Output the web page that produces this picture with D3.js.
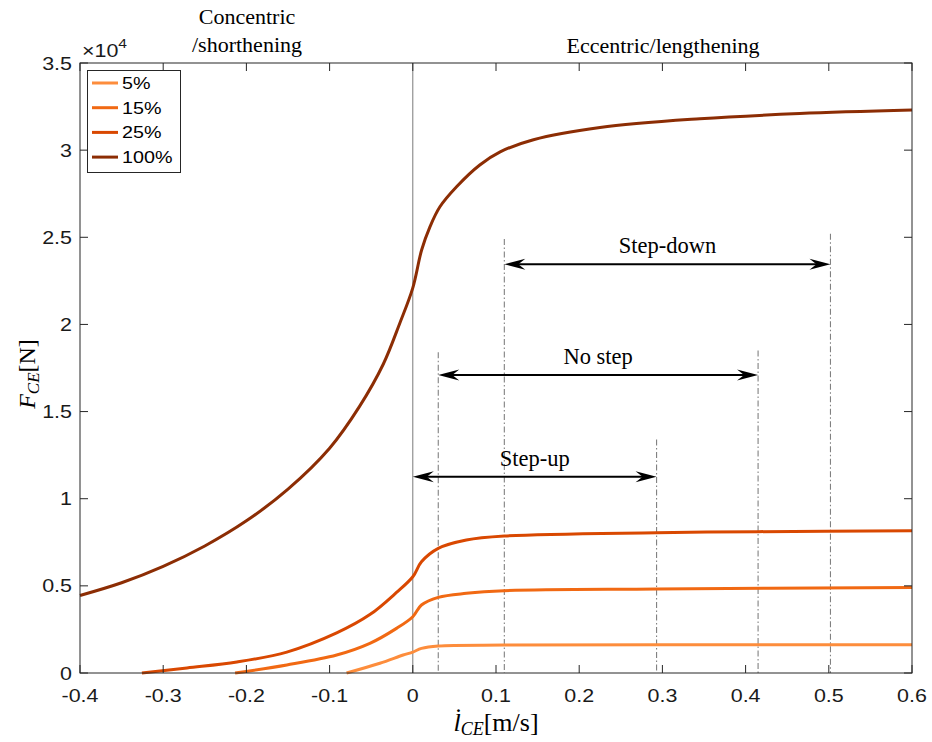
<!DOCTYPE html>
<html>
<head>
<meta charset="utf-8">
<script src="https://cdn.jsdelivr.net/npm/d3@7"></script>
<style>
  html, body { margin: 0; padding: 0; background: #fff; }
  svg { display: block; }
</style>
</head>
<body>
<svg id="chart" width="932" height="742"></svg>
<script>
// Force-velocity curves of the contractile element at several activation levels
const seriesNames = ["5%", "15%", "25%", "100%"];
const seriesColors = ["#fd8d3c", "#f16913", "#d94801", "#8c2d04"];

const vel5   = [-0.0796, -0.0396, -0.0116, 0, 0.0104, 0.0306, 0.11, 0.3, 0.6];
const force5 = [0, 560, 1030, 1200, 1410, 1550, 1600, 1615, 1620];

const vel15   = [-0.2136, -0.1514, -0.0915, -0.0516, -0.0196, 0, 0.0104, 0.0306, 0.0644, 0.11, 0.293, 0.6];
const force15 = [0, 460, 1030, 1700, 2560, 3230, 3900, 4340, 4570, 4720, 4820, 4910];

const vel25   = [-0.3256, -0.2714, -0.2114, -0.1514, -0.0915, -0.0516, -0.0196, 0, 0.0104, 0.0306, 0.0644, 0.11, 0.293, 0.415, 0.6];
const force25 = [0, 290, 630, 1200, 2300, 3350, 4620, 5520, 6380, 7150, 7630, 7860, 8050, 8110, 8160];

const vel100   = [-0.4, -0.35, -0.3, -0.25, -0.2, -0.15, -0.1, -0.064, -0.0357, -0.0154, 0, 0.0106, 0.0206, 0.0326, 0.0526, 0.0805, 0.105, 0.145, 0.225, 0.345, 0.465, 0.6];
const force100 = [4450, 5180, 6120, 7290, 8730, 10550, 12900, 15300, 17700, 20100, 22100, 24270, 25600, 26750, 27900, 29150, 29900, 30600, 31300, 31800, 32100, 32300];

const xTicks = [-0.4, -0.3, -0.2, -0.1, 0, 0.1, 0.2, 0.3, 0.4, 0.5, 0.6];
const xTickLabels = ["-0.4", "-0.3", "-0.2", "-0.1", "0", "0.1", "0.2", "0.3", "0.4", "0.5", "0.6"];
const yTicks = [0, 5000, 10000, 15000, 20000, 25000, 30000, 35000];
const yTickLabels = ["0", "0.5", "1", "1.5", "2", "2.5", "3", "3.5"];

// Transition-region guides: velocity and height of each dash-dot line
const guideVel = [0.0306, 0.110, 0.293, 0.415, 0.502];
const guideTop = [18400, 24900, 13400, 18500, 25200];

// Double-headed range arrows
const rangeLabels = ["Step-up", "No step", "Step-down"];
const rangeFrom   = [0, 0.0306, 0.110];
const rangeTo     = [0.293, 0.415, 0.502];
const rangeLevel  = [11260, 17100, 23450];

const svg = d3.select("#chart");
const margin = { left: 80, right: 20, top: 63, bottom: 69 };
const W = 932, H = 742;

const x = d3.scaleLinear().domain([-0.4, 0.6]).range([margin.left, W - margin.right]);
const y = d3.scaleLinear().domain([0, 35000]).range([H - margin.bottom, margin.top]);

const sans = "'Liberation Sans', Arial, Helvetica, sans-serif";
const serif = "'Liberation Serif', 'Times New Roman', serif";
const axisColor = "#262626";
const sansStretch = 1.16;

// sans-serif label, widened horizontally around its anchor point
function sansText(parent, px, py, txt, size, anchor) {
  return parent.append("text")
    .attr("transform", `translate(${px},${py}) scale(${sansStretch},1)`)
    .attr("text-anchor", anchor)
    .attr("font-family", sans).attr("font-size", size).attr("fill", "#1a1a1a")
    .text(txt);
}

const series = [
  { v: vel5, f: force5 },
  { v: vel15, f: force15 },
  { v: vel25, f: force25 },
  { v: vel100, f: force100 }
];

// zero-velocity divider
svg.append("line")
  .attr("x1", x(0)).attr("x2", x(0))
  .attr("y1", y(35000)).attr("y2", y(0))
  .attr("stroke", "#7a7a7a").attr("stroke-width", 1);

// dash-dot guides
guideVel.forEach((v, i) => {
  svg.append("line")
    .attr("x1", x(v)).attr("x2", x(v))
    .attr("y1", y(guideTop[i])).attr("y2", y(0))
    .attr("stroke", "#808080").attr("stroke-width", 1.1)
    .attr("stroke-dasharray", "6,2.5,1.5,2.5");
});

// curves
const line = d3.line().curve(d3.curveCatmullRom.alpha(0.5));
series.forEach((s, i) => {
  const pts = s.v.map((v, j) => [x(v), y(s.f[j])]);
  svg.append("path")
    .attr("d", line(pts))
    .attr("fill", "none")
    .attr("stroke", seriesColors[i])
    .attr("stroke-width", 3)
    .attr("stroke-linejoin", "round");
});

// arrowheads with a notched back
function headPath(tipX, tipY, dir) {
  const L = 21, Wd = 5.5, N = 14;
  return `M${tipX},${tipY} L${tipX - dir * L},${tipY - Wd} L${tipX - dir * N},${tipY} L${tipX - dir * L},${tipY + Wd} Z`;
}
rangeLabels.forEach((lab, i) => {
  const x1 = x(rangeFrom[i]), x2 = x(rangeTo[i]), yy = y(rangeLevel[i]);
  svg.append("line")
    .attr("x1", x1 + 10).attr("x2", x2 - 10)
    .attr("y1", yy).attr("y2", yy)
    .attr("stroke", "#000").attr("stroke-width", 2);
  svg.append("path").attr("d", headPath(x1, yy, -1)).attr("fill", "#000");
  svg.append("path").attr("d", headPath(x2, yy, 1)).attr("fill", "#000");
  svg.append("text")
    .attr("x", (x1 + x2) / 2).attr("y", yy - 11)
    .attr("text-anchor", "middle")
    .attr("font-family", serif).attr("font-size", 22.5)
    .text(lab);
});

// axes box with inward ticks on all four sides
const tickLen = 8;
const gAx = svg.append("g");
gAx.append("rect")
  .attr("x", x(-0.4)).attr("y", y(35000))
  .attr("width", x(0.6) - x(-0.4)).attr("height", y(0) - y(35000))
  .attr("fill", "none").attr("stroke", axisColor).attr("stroke-width", 1);

xTicks.forEach((t, i) => {
  gAx.append("line").attr("x1", x(t)).attr("x2", x(t))
    .attr("y1", y(0)).attr("y2", y(0) - tickLen).attr("stroke", axisColor);
  gAx.append("line").attr("x1", x(t)).attr("x2", x(t))
    .attr("y1", y(35000)).attr("y2", y(35000) + tickLen).attr("stroke", axisColor);
  sansText(gAx, x(t), y(0) + 29, xTickLabels[i], 18.5, "middle");
});
yTicks.forEach((t, i) => {
  gAx.append("line").attr("x1", x(-0.4)).attr("x2", x(-0.4) + tickLen)
    .attr("y1", y(t)).attr("y2", y(t)).attr("stroke", axisColor);
  gAx.append("line").attr("x1", x(0.6)).attr("x2", x(0.6) - tickLen)
    .attr("y1", y(t)).attr("y2", y(t)).attr("stroke", axisColor);
  sansText(gAx, x(-0.4) - 8, y(t) + 6.5, yTickLabels[i], 18.5, "end");
});

// exponent marker
const expo = sansText(svg, x(-0.4) + 2, y(35000) - 6, "", 18.5, "start");
expo.append("tspan").text("\u00d710");
expo.append("tspan").attr("font-size", 13.5).attr("dy", -9).text("4");

// axis titles
const xl = svg.append("text")
  .attr("x", 496).attr("y", 731)
  .attr("text-anchor", "middle")
  .attr("font-family", serif).attr("font-size", 26);
xl.append("tspan").attr("font-style", "italic").text("l\u0307");
xl.append("tspan").attr("font-style", "italic").attr("font-size", 18).attr("dy", 4).text("CE");
xl.append("tspan").attr("dy", -4).text("[m/s]");

const yl = svg.append("text")
  .attr("transform", "translate(35,374) rotate(-90)")
  .attr("text-anchor", "middle")
  .attr("font-family", serif).attr("font-size", 24);
yl.append("tspan").attr("font-style", "italic").text("F");
yl.append("tspan").attr("font-style", "italic").attr("font-size", 17).attr("dy", 4).text("CE");
yl.append("tspan").attr("dy", -4).text("[N]");

// region captions
svg.append("text").attr("x", 247).attr("y", 24).attr("text-anchor", "middle")
  .attr("font-family", serif).attr("font-size", 22).text("Concentric");
svg.append("text").attr("x", 247).attr("y", 52).attr("text-anchor", "middle")
  .attr("font-family", serif).attr("font-size", 22).text("/shorthening");
svg.append("text").attr("x", 663).attr("y", 53).attr("text-anchor", "middle")
  .attr("font-family", serif).attr("font-size", 22).text("Eccentric/lengthening");

// legend
const lg = svg.append("g");
lg.append("rect").attr("x", 87.5).attr("y", 70.5).attr("width", 93).attr("height", 102)
  .attr("fill", "#fff").attr("stroke", axisColor).attr("stroke-width", 1);
seriesNames.forEach((n, i) => {
  const yy = 83 + i * 24.7;
  lg.append("line").attr("x1", 92).attr("x2", 118).attr("y1", yy).attr("y2", yy)
    .attr("stroke", seriesColors[i]).attr("stroke-width", 3);
  sansText(lg, 122, yy + 6, n, 17, "start").attr("fill", "#000");
});
</script>
</body>
</html>
